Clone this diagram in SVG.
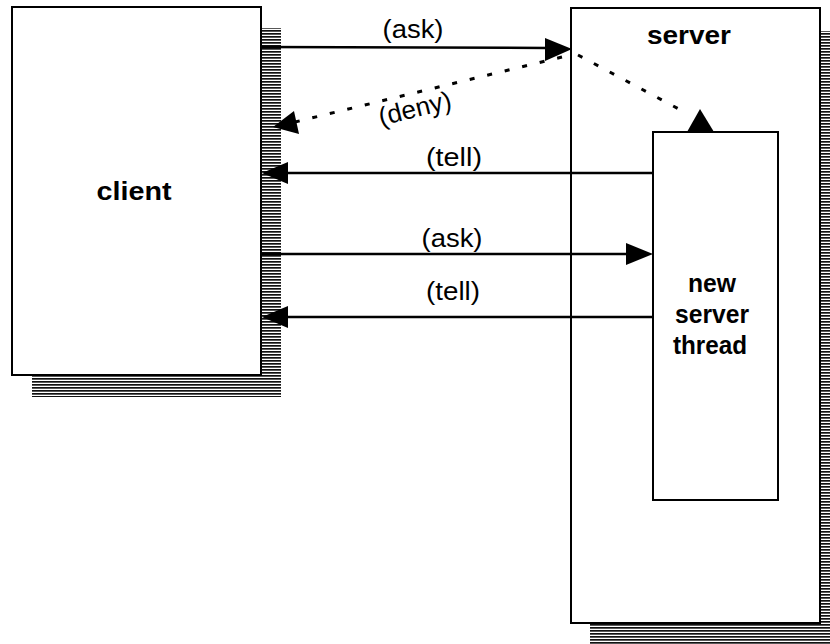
<svg xmlns="http://www.w3.org/2000/svg" width="830" height="644" viewBox="0 0 830 644">
  <style>
    .box { fill: #fff; stroke: #000; stroke-width: 2; }
    .shadow { fill: url(#hatch); }
    .line { stroke: #000; stroke-width: 2.5; fill: none; }
    .dots { stroke: #000; stroke-width: 3; fill: none; stroke-dasharray: 5 13; }
    .head { fill: #000; }
    .title { font-family: "Liberation Sans", Arial, sans-serif; font-weight: bold; font-size: 26px; text-anchor: middle; fill: #000; }
    .inner { font-family: "Liberation Sans", Arial, sans-serif; font-weight: bold; font-size: 25px; text-anchor: middle; fill: #000; }
    .msg { font-family: "Liberation Sans", Arial, sans-serif; font-size: 26px; text-anchor: middle; fill: #000; }
  </style>
  <defs>
    <!-- dense horizontal rules used for the drop shadows -->
    <pattern id="hatch" width="6" height="3" patternUnits="userSpaceOnUse">
      <rect width="6" height="3" fill="#fff"/>
      <rect y="0" width="6" height="1.7" fill="#111"/>
    </pattern>
  </defs>
  <rect width="830" height="644" fill="#fff"/>

  <!-- client process -->
  <g id="client">
    <rect class="shadow" x="32" y="28" width="249" height="369"/>
    <rect class="box" x="12" y="7" width="249" height="368"/>
    <text class="title" x="134" y="200" textLength="75" lengthAdjust="spacingAndGlyphs">client</text>
  </g>

  <!-- server process -->
  <g id="server">
    <rect class="shadow" x="590" y="31" width="260" height="640"/>
    <rect class="box" x="571" y="8" width="249" height="615"/>
    <text class="title" x="689" y="44" textLength="84" lengthAdjust="spacingAndGlyphs">server</text>
  </g>

  <!-- thread spawned by the server -->
  <g id="thread">
    <rect class="box" x="653" y="132" width="125" height="368"/>
    <text class="inner" x="712" y="292" textLength="48" lengthAdjust="spacingAndGlyphs">new</text>
    <text class="inner" x="712" y="323" textLength="74" lengthAdjust="spacingAndGlyphs">server</text>
    <text class="inner" x="710" y="354" textLength="74" lengthAdjust="spacingAndGlyphs">thread</text>
  </g>

  <!-- messages -->
  <g id="connectors">
    <!-- ask: client to server -->
    <line class="line" x1="261" y1="47" x2="548" y2="48"/>
    <polygon class="head" points="572,49 545,38 545,61"/>
    <text class="msg" x="413" y="38" textLength="61" lengthAdjust="spacingAndGlyphs">(ask)</text>

    <!-- server hands request to new thread -->
    <line class="dots" x1="578" y1="55" x2="688" y2="114"/>
    <polygon class="head" points="700,109 687,132 714,132"/>

    <!-- deny: server back to client -->
    <line class="dots" x1="562" y1="57" x2="295" y2="122"/>
    <polygon class="head" points="273,127 294,111 299,134"/>
    <text class="msg" x="417" y="117" transform="rotate(-14 417 117)" textLength="74" lengthAdjust="spacingAndGlyphs">(deny)</text>

    <!-- tell: thread to client -->
    <line class="line" x1="653" y1="173" x2="285" y2="173"/>
    <polygon class="head" points="262,173 288,162 288,184"/>
    <text class="msg" x="454" y="166" textLength="56" lengthAdjust="spacingAndGlyphs">(tell)</text>

    <!-- ask: client to thread -->
    <line class="line" x1="261" y1="254" x2="630" y2="254"/>
    <polygon class="head" points="653,254 626,243 626,265"/>
    <text class="msg" x="452" y="247" textLength="61" lengthAdjust="spacingAndGlyphs">(ask)</text>

    <!-- tell: thread to client -->
    <line class="line" x1="653" y1="317" x2="285" y2="317"/>
    <polygon class="head" points="262,317 288,306 288,328"/>
    <text class="msg" x="453" y="300" textLength="54" lengthAdjust="spacingAndGlyphs">(tell)</text>
  </g>
</svg>
